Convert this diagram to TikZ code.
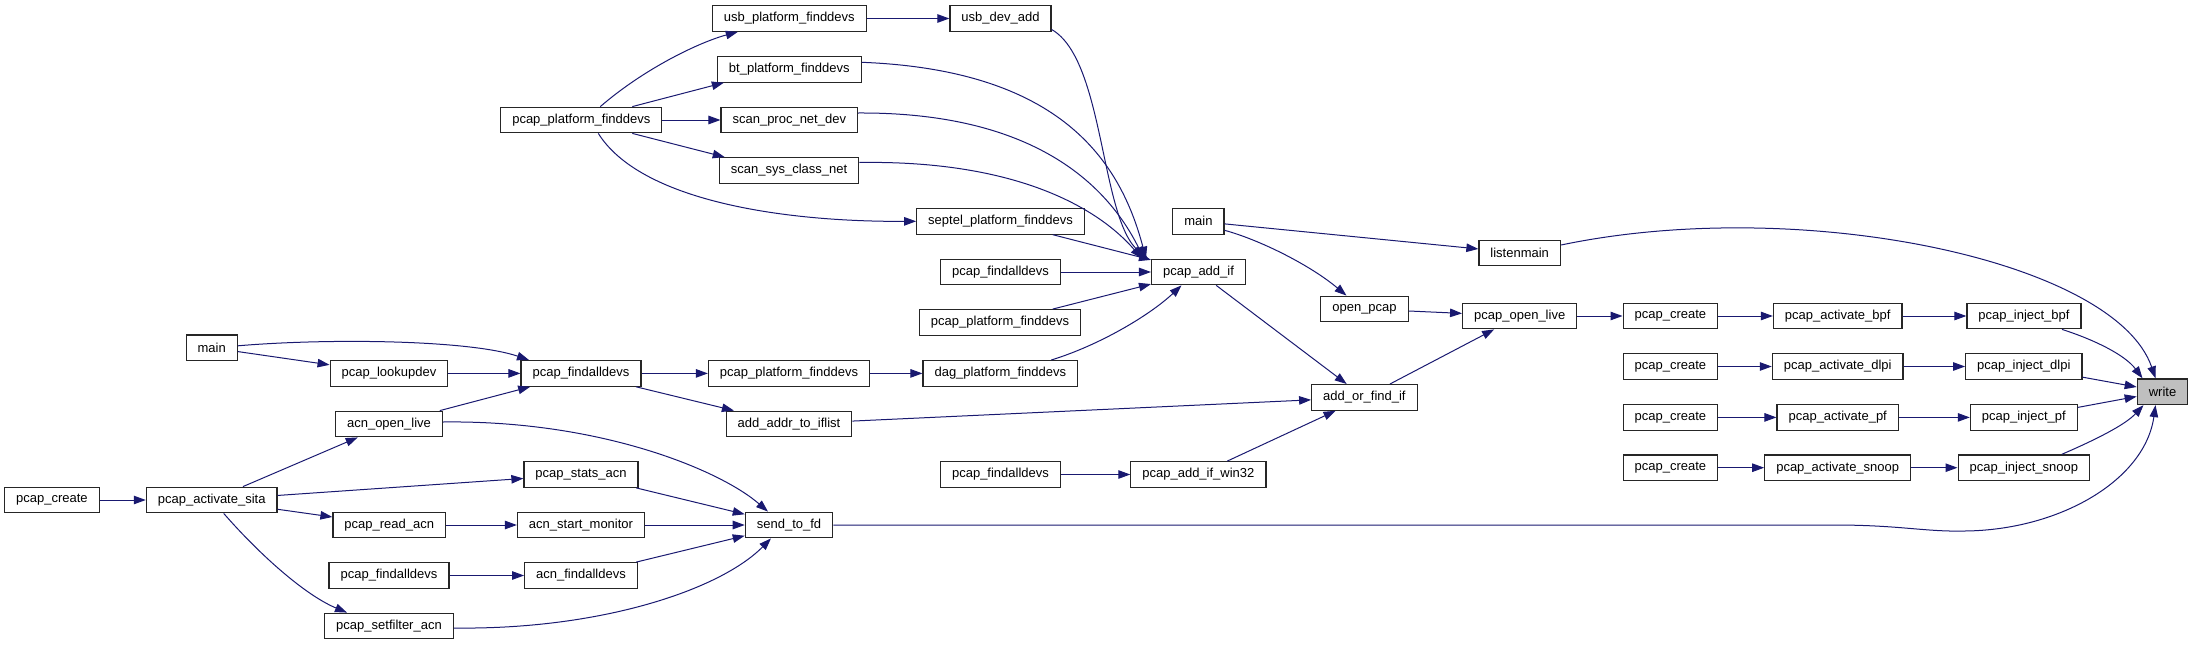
\documentclass[tikz,border=0pt]{standalone}
\usepackage{fontspec}
\setmainfont{Liberation Sans}
\usepackage{tikz}
\usetikzlibrary{arrows.meta, positioning}
\definecolor{EdgeBlue}{RGB}{25,25,112}
\definecolor{CurGray}{RGB}{191,191,191}

\begin{document}
\begin{tikzpicture}[
  x=1pt, y=-1pt,
  font=\fontsize{13}{15}\selectfont,
  func/.style={draw=black!85, line width=1.2pt, fill=white, minimum height=25.6pt, inner xsep=11.5pt, inner ysep=0pt},
  cur/.style={func, fill=CurGray},
  arr/.style={-{Triangle[length=12pt, width=8.5pt, fill=EdgeBlue]}, line width=1pt, draw=EdgeBlue}
]
  \useasboundingbox (0,0) rectangle (2193,645);

  % upper part: platform finders feeding pcap_add_if
  \node[func] (usbpf)    at (789.3,18.5)  {usb\_platform\_finddevs};
  \node[func] (usbadd)   at (1000.5,18.5) {usb\_dev\_add};
  \node[func] (btpf)     at (789.3,69.3)  {bt\_platform\_finddevs};
  \node[func] (ppfA)     at (581.3,120)   {pcap\_platform\_finddevs};
  \node[func] (scanproc) at (789.3,120)   {scan\_proc\_net\_dev};
  \node[func] (scansys)  at (789.0,170.5) {scan\_sys\_class\_net};
  \node[func] (septel)   at (1000.5,221.3) {septel\_platform\_finddevs};
  \node[func] (mainA)    at (1198.4,221.3) {main};
  \node[func] (pfaA)     at (1000.5,272)  {pcap\_findalldevs};
  \node[func] (addif)    at (1198.5,272)  {pcap\_add\_if};
  \node[func] (listen)   at (1519.7,253)  {listenmain};
  \node[func] (ppfB)     at (1000,322.5)  {pcap\_platform\_finddevs};
  \node[func] (openpcap) at (1364.5,309)  {open\_pcap};
  \node[func] (openlive) at (1519.7,316)  {pcap\_open\_live};

  % the four pcap_create chains on the right
  \node[func] (createB)  at (1670.4,316)   {pcap\_create};
  \node[func] (actbpf)   at (1837.7,316)   {pcap\_activate\_bpf};
  \node[func] (injbpf)   at (2024,316)     {pcap\_inject\_bpf};
  \node[func] (createD)  at (1670.4,366.5) {pcap\_create};
  \node[func] (actdlpi)  at (1837.7,366.5) {pcap\_activate\_dlpi};
  \node[func] (injdlpi)  at (2023.8,366.5) {pcap\_inject\_dlpi};
  \node[func] (createP)  at (1670.4,417.4) {pcap\_create};
  \node[func] (actpf)    at (1837.7,417.4) {pcap\_activate\_pf};
  \node[func] (injpf)    at (2023.8,417.4) {pcap\_inject\_pf};
  \node[func] (createS)  at (1670.4,467.7) {pcap\_create};
  \node[func] (actsnoop) at (1837.7,467.7) {pcap\_activate\_snoop};
  \node[func] (injsnoop) at (2023.8,467.7) {pcap\_inject\_snoop};
  \node[cur]  (write)    at (2162.5,391.7) {write};

  % lower part: findalldevs and the acn functions
  \node[func] (mainB)    at (211.7,347.8) {main};
  \node[func] (lookup)   at (389,373.4)   {pcap\_lookupdev};
  \node[func] (pfaB)     at (581,373.4)   {pcap\_findalldevs};
  \node[func] (ppfC)     at (789,373.4)   {pcap\_platform\_finddevs};
  \node[func] (dagpf)    at (1000.3,373.4) {dag\_platform\_finddevs};
  \node[func] (aofi)     at (1364.4,397.4) {add\_or\_find\_if};
  \node[func] (acnopen)  at (389,424)     {acn\_open\_live};
  \node[func] (addaddr)  at (789,424)     {add\_addr\_to\_iflist};
  \node[func] (statsacn) at (581,474.5)   {pcap\_stats\_acn};
  \node[func] (pfaD)     at (1000.5,474.5) {pcap\_findalldevs};
  \node[func] (win32)    at (1198.4,474.5) {pcap\_add\_if\_win32};
  \node[func] (createA)  at (51.9,500)    {pcap\_create};
  \node[func] (actsita)  at (211.7,500)   {pcap\_activate\_sita};
  \node[func] (readacn)  at (389.3,525)   {pcap\_read\_acn};
  \node[func] (startmon) at (581,525)     {acn\_start\_monitor};
  \node[func] (sendfd)   at (789,525)     {send\_to\_fd};
  \node[func] (pfaC)     at (389,575.5)   {pcap\_findalldevs};
  \node[func] (acnfind)  at (581,575.5)   {acn\_findalldevs};
  \node[func] (setfilter) at (389,626)    {pcap\_setfilter\_acn};

  % edges
  \draw[arr] ([xshift=19pt]ppfA.north) .. controls (645,68) and (700,42) .. ([xshift=26pt]usbpf.south west);
  \draw[arr] ([xshift=51pt]ppfA.north) -- ([xshift=7pt]btpf.south west);
  \draw[arr] (ppfA) -- (scanproc);
  \draw[arr] ([xshift=51pt]ppfA.south) -- ([xshift=6pt]scansys.north west);
  \draw[arr] ([xshift=17pt]ppfA.south) .. controls (640,200) and (780,222) .. (septel.west);
  \draw[arr] (usbpf) -- (usbadd);
  \draw[arr] ([yshift=-11pt]usbadd.east) .. controls (1105,60) and (1100,220) .. ([xshift=-3pt]addif.north west);
  \draw[arr] ([yshift=7pt]btpf.east) .. controls (1060,70) and (1120,160) .. ([xshift=-5pt]addif.north west);
  \draw[arr] ([yshift=7pt]scanproc.east) .. controls (1040,112) and (1110,190) .. ([xshift=-7pt]addif.north west);
  \draw[arr] ([yshift=8pt]scansys.east) .. controls (1020,160) and (1100,210) .. ([xshift=-9pt]addif.north west);
  \draw[arr] (septel) -- (addif);
  \draw[arr] (pfaA) -- (addif);
  \draw[arr] (ppfB) -- (addif);
  \draw[arr] ([xshift=51pt]dagpf.north) .. controls (1100,345) and (1150,315) .. ([xshift=-17pt]addif.south);
  \draw[arr] (addif) -- (aofi);
  \draw[arr] (addaddr) -- (aofi);
  \draw[arr] (win32) -- (aofi);
  \draw[arr] (mainA) -- (listen);
  \draw[arr] ([yshift=-9pt]mainA.east) .. controls (1260,240) and (1310,265) .. ([xshift=-18pt]openpcap.north);
  \draw[arr] (openpcap) -- (openlive);
  \draw[arr] (aofi) -- (openlive);
  \draw[arr] (openlive) -- (createB);
  \draw[arr] (createB) -- (actbpf);
  \draw[arr] (actbpf) -- (injbpf);
  \draw[arr] (createD) -- (actdlpi);
  \draw[arr] (actdlpi) -- (injdlpi);
  \draw[arr] (createP) -- (actpf);
  \draw[arr] (actpf) -- (injpf);
  \draw[arr] (createS) -- (actsnoop);
  \draw[arr] (actsnoop) -- (injsnoop);
  \draw[arr] ([yshift=8pt]listen.east) .. controls (1800,195) and (2115,260) .. ([xshift=-7pt]write.north);
  \draw[arr] ([xshift=38pt]injbpf.south) .. controls (2095,340) and (2125,355) .. ([xshift=-20pt]write.north);
  \draw[arr] (injdlpi) -- (write);
  \draw[arr] (injpf) -- (write);
  \draw[arr] ([xshift=38pt]injsnoop.north) .. controls (2095,440) and (2125,425) .. ([xshift=-19pt]write.south);
  \draw[arr] (sendfd.east) -- (1834,525) .. controls (1900,525) and (1925,532) .. (1965,531)
    .. controls (2060,530) and (2145,480) .. ([xshift=-7pt]write.south);
  \draw[arr] ([yshift=2pt]mainB.east) .. controls (330,338) and (470,340) .. ([xshift=-52pt]pfaB.north);
  \draw[arr] (mainB) -- (lookup);
  \draw[arr] (lookup) -- (pfaB);
  \draw[arr] (acnopen) -- (pfaB);
  \draw[arr] (pfaB) -- (ppfC);
  \draw[arr] (pfaB) -- (addaddr);
  \draw[arr] (ppfC) -- (dagpf);
  \draw[arr] (pfaD) -- (win32);
  \draw[arr] (createA) -- (actsita);
  \draw[arr] (actsita) -- (acnopen);
  \draw[arr] (actsita) -- (statsacn);
  \draw[arr] (actsita) -- (readacn);
  \draw[arr] ([xshift=12pt]actsita.south) .. controls (260,555) and (305,595) .. ([xshift=-42pt]setfilter.north);
  \draw[arr] (readacn) -- (startmon);
  \draw[arr] (pfaC) -- (acnfind);
  \draw[arr] ([yshift=2pt]acnopen.east) .. controls (600,420) and (720,470) .. ([xshift=-21pt]sendfd.north);
  \draw[arr] (statsacn) -- (sendfd);
  \draw[arr] (startmon) -- (sendfd);
  \draw[arr] (acnfind) -- (sendfd);
  \draw[arr] ([yshift=-2pt]setfilter.east) .. controls (600,630) and (720,590) .. ([xshift=-18pt]sendfd.south);
\end{tikzpicture}
\end{document}
